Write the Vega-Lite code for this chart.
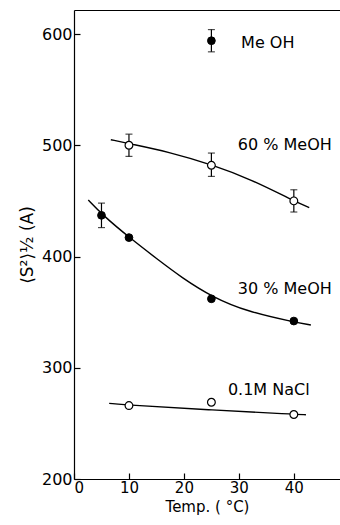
{
  "$schema": "https://vega.github.io/schema/vega-lite/v6.json",
  "autosize": "none",
  "width": 266,
  "height": 469,
  "padding": {"left": 74, "top": 10, "right": 0, "bottom": 46},
  "background": "white",
  "config": {
    "view": {"stroke": null},
    "font": "DejaVu Sans",
    "axis": {
      "domainColor": "black",
      "domainWidth": 1.2,
      "tickColor": "black",
      "tickWidth": 1.2,
      "grid": false,
      "labelColor": "black",
      "labelFont": "DejaVu Sans",
      "labelFontSize": 16,
      "titleColor": "black",
      "titleFont": "DejaVu Sans",
      "titleFontSize": 16,
      "titleFontWeight": "normal"
    }
  },
  "resolve": {"axis": {"x": "independent"}},
  "datasets": {
    "points": [
      {"series": "MeOH", "t": 25, "r": 594, "lo": 584, "hi": 604, "filled": true},
      {"series": "60% MeOH", "t": 10, "r": 500, "lo": 490, "hi": 510, "filled": false},
      {"series": "60% MeOH", "t": 25, "r": 482, "lo": 472, "hi": 493, "filled": false},
      {"series": "60% MeOH", "t": 40, "r": 450, "lo": 440, "hi": 460, "filled": false},
      {"series": "30% MeOH", "t": 5, "r": 437, "lo": 426, "hi": 448, "filled": true},
      {"series": "30% MeOH", "t": 10, "r": 417, "lo": null, "hi": null, "filled": true},
      {"series": "30% MeOH", "t": 25, "r": 362, "lo": null, "hi": null, "filled": true},
      {"series": "30% MeOH", "t": 40, "r": 342, "lo": null, "hi": null, "filled": true},
      {"series": "0.1M NaCl", "t": 10, "r": 266, "lo": null, "hi": null, "filled": false},
      {"series": "0.1M NaCl", "t": 25, "r": 269, "lo": null, "hi": null, "filled": false},
      {"series": "0.1M NaCl", "t": 40, "r": 258, "lo": null, "hi": null, "filled": false}
    ],
    "curves": [
      {"series": "60% MeOH", "t": 6.7, "r": 505.0},
      {"series": "60% MeOH", "t": 10.4, "r": 501.1},
      {"series": "60% MeOH", "t": 17.0, "r": 494.3},
      {"series": "60% MeOH", "t": 25.5, "r": 482.0},
      {"series": "60% MeOH", "t": 32.2, "r": 469.3},
      {"series": "60% MeOH", "t": 39.8, "r": 450.5},
      {"series": "60% MeOH", "t": 42.8, "r": 444.0},
      {"series": "30% MeOH", "t": 2.6, "r": 450.8},
      {"series": "30% MeOH", "t": 5.2, "r": 437.3},
      {"series": "30% MeOH", "t": 10.2, "r": 416.5},
      {"series": "30% MeOH", "t": 15.2, "r": 397.5},
      {"series": "30% MeOH", "t": 19.5, "r": 381.4},
      {"series": "30% MeOH", "t": 25.2, "r": 363.4},
      {"series": "30% MeOH", "t": 31.6, "r": 350.4},
      {"series": "30% MeOH", "t": 40.1, "r": 341.0},
      {"series": "30% MeOH", "t": 43.1, "r": 338.4},
      {"series": "0.1M NaCl", "t": 6.4, "r": 268.0},
      {"series": "0.1M NaCl", "t": 10.1, "r": 266.5},
      {"series": "0.1M NaCl", "t": 25.2, "r": 262.0},
      {"series": "0.1M NaCl", "t": 39.8, "r": 258.2},
      {"series": "0.1M NaCl", "t": 42.2, "r": 257.8}
    ],
    "labels": [
      {"text": "Me OH", "t": 30.4, "r": 592},
      {"text": "60 % MeOH", "t": 29.8, "r": 500},
      {"text": "30 % MeOH", "t": 29.8, "r": 371},
      {"text": "0.1M NaCl", "t": 28.0, "r": 280}
    ]
  },
  "layer": [
    {
      "data": {"name": "curves"},
      "mark": {"type": "line", "color": "black", "strokeWidth": 1.4, "interpolate": "basis"},
      "encoding": {
        "x": {
          "field": "t", "type": "quantitative",
          "scale": {"domain": [0, 48.4], "nice": false, "zero": false},
          "axis": {
            "title": "Temp. ( °C)",
            "titleFontSize": 15,
            "labelFontSize": 15,
            "values": [0, 10, 20, 30, 40],
            "tickSize": -6,
            "labelPadding": 7,
            "titlePadding": 4
          }
        },
        "y": {
          "field": "r", "type": "quantitative",
          "scale": {"domain": [200, 621.6], "nice": false, "zero": false},
          "axis": {
            "title": "⟨S²⟩½ (A)",
            "titleFontSize": 17,
            "values": [200, 300, 400, 500, 600],
            "tickSize": -6,
            "labelPadding": 8,
            "titlePadding": 5
          }
        },
        "detail": {"field": "series"}
      }
    },
    {
      "data": {"name": "curves"},
      "mark": {"type": "rule", "opacity": 0},
      "encoding": {
        "x": {
          "field": "t", "type": "quantitative",
          "axis": {"orient": "top", "title": null, "labels": false, "ticks": false, "domain": true}
        },
        "y": {"field": "r", "type": "quantitative"}
      }
    },
    {
      "data": {"name": "points"},
      "transform": [{"filter": "datum.lo != null"}],
      "mark": {"type": "rule", "color": "black", "strokeWidth": 1.2},
      "encoding": {
        "x": {"field": "t", "type": "quantitative", "axis": null},
        "y": {"field": "lo", "type": "quantitative"},
        "y2": {"field": "hi"}
      }
    },
    {
      "data": {"name": "points"},
      "transform": [{"filter": "datum.lo != null"}],
      "mark": {"type": "tick", "orient": "horizontal", "color": "black", "size": 7, "thickness": 1.2},
      "encoding": {
        "x": {"field": "t", "type": "quantitative", "axis": null},
        "y": {"field": "lo", "type": "quantitative"}
      }
    },
    {
      "data": {"name": "points"},
      "transform": [{"filter": "datum.hi != null"}],
      "mark": {"type": "tick", "orient": "horizontal", "color": "black", "size": 7, "thickness": 1.2},
      "encoding": {
        "x": {"field": "t", "type": "quantitative", "axis": null},
        "y": {"field": "hi", "type": "quantitative"}
      }
    },
    {
      "data": {"name": "points"},
      "transform": [{"filter": "!datum.filled"}],
      "mark": {"type": "point", "shape": "circle", "filled": true, "fill": "white", "stroke": "black", "strokeWidth": 1.2, "size": 60, "opacity": 1},
      "encoding": {
        "x": {"field": "t", "type": "quantitative", "axis": null},
        "y": {"field": "r", "type": "quantitative"}
      }
    },
    {
      "data": {"name": "points"},
      "transform": [{"filter": "datum.filled"}],
      "mark": {"type": "point", "shape": "circle", "filled": true, "fill": "black", "stroke": "black", "strokeWidth": 1, "size": 60, "opacity": 1},
      "encoding": {
        "x": {"field": "t", "type": "quantitative", "axis": null},
        "y": {"field": "r", "type": "quantitative"}
      }
    },
    {
      "data": {"name": "labels"},
      "mark": {"type": "text", "align": "left", "baseline": "middle", "font": "DejaVu Sans", "fontSize": 16, "color": "black"},
      "encoding": {
        "x": {"field": "t", "type": "quantitative", "axis": null},
        "y": {"field": "r", "type": "quantitative"},
        "text": {"field": "text"}
      }
    }
  ]
}
